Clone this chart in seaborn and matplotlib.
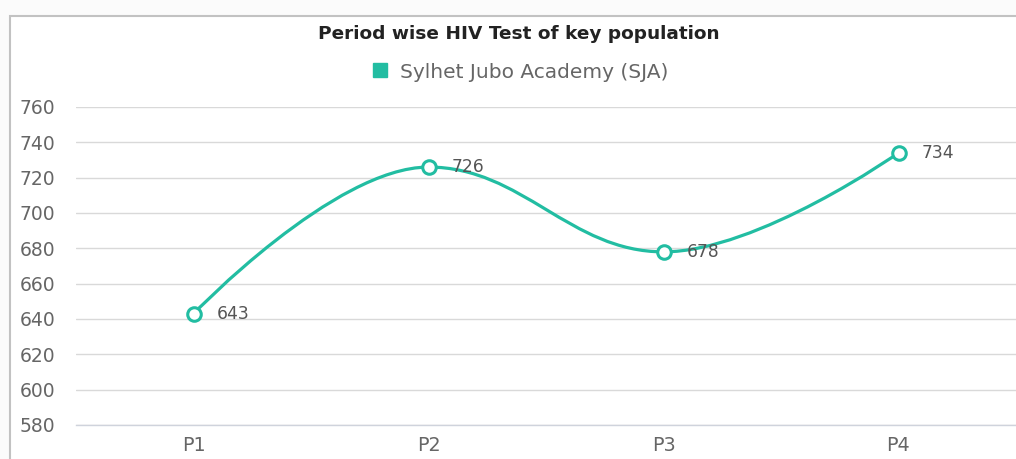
# line chart of period wise HIV tests (Highcharts-like spline)

import matplotlib
matplotlib.use("Agg")
import matplotlib.pyplot as plt
import pandas as pd
import seaborn as sns
from numpy import arange
from matplotlib.path import Path
from matplotlib.patches import PathPatch, Rectangle
from matplotlib.lines import Line2D

# data
periods = ["P1", "P2", "P3", "P4"]
tests = [643, 726, 678, 734]
series_name = "Sylhet Jubo Academy (SJA)"
title = "Period wise HIV Test of key population"
y_ticks = list(range(580, 761, 20))

teal = "#22bda2"
W, H = 1016, 459

df = pd.DataFrame({"pos": arange(len(periods)), "period": periods, "tests": tests})


def spline_path(xs, ys, smoothing=1.5):
    # same control point rule as a highcharts spline
    n = len(xs)
    left = [None] * n
    right = [None] * n
    denom = smoothing + 1
    for i in range(1, n - 1):
        lx, ly, px, py, nx, ny = xs[i - 1], ys[i - 1], xs[i], ys[i], xs[i + 1], ys[i + 1]
        lcx = (smoothing * px + lx) / denom
        lcy = (smoothing * py + ly) / denom
        rcx = (smoothing * px + nx) / denom
        rcy = (smoothing * py + ny) / denom
        corr = (rcy - lcy) * (rcx - px) / (rcx - lcx) + py - rcy
        lcy += corr
        rcy += corr
        if lcy > ly and lcy > py:
            lcy = max(ly, py)
            rcy = 2 * py - lcy
        elif lcy < ly and lcy < py:
            lcy = min(ly, py)
            rcy = 2 * py - lcy
        if rcy > ny and rcy > py:
            rcy = max(ny, py)
            lcy = 2 * py - rcy
        elif rcy < ny and rcy < py:
            rcy = min(ny, py)
            lcy = 2 * py - rcy
        left[i] = (lcx, lcy)
        right[i] = (rcx, rcy)
    verts = [(xs[0], ys[0])]
    codes = [Path.MOVETO]
    for i in range(1, n):
        verts.append(right[i - 1] or (xs[i - 1], ys[i - 1]))
        verts.append(left[i] or (xs[i], ys[i]))
        verts.append((xs[i], ys[i]))
        codes += [Path.CURVE4] * 3
    return Path(verts, codes)


sns.set_theme(style="white")
plt.rcParams["font.family"] = ["DejaVu Sans"]

fig = plt.figure(figsize=(W / 100, H / 100), dpi=100)
fig.patch.set_facecolor("#fbfbfb")

# chart frame, cut by the right and bottom edges
fig.patches.append(Rectangle((10 / W, -0.1), 1.0, 1.1 - 16 / H, transform=fig.transFigure,
                             facecolor="white", edgecolor="#c2c2c2", lw=1.5, zorder=-1))

ax = fig.add_axes([76 / W, 34 / H, 1 - 76 / W, (425 - 107) / H])
ax.set_facecolor("none")

ax.add_patch(PathPatch(spline_path(list(df["pos"]), list(df["tests"])), facecolor="none",
                       edgecolor=teal, lw=2.3, zorder=2, capstyle="round"))
sns.scatterplot(data=df, x="pos", y="tests", ax=ax, s=95, color="white",
                edgecolor=teal, linewidth=2.2, zorder=3, legend=False)

for x, v in zip(df["pos"], df["tests"]):
    ax.annotate(str(v), (x, v), xytext=(17, 0), textcoords="offset points",
                ha="left", va="center", fontsize=12.3, color="#555555")

ax.set_xlim(-0.5, len(periods) - 0.5)
ax.set_ylim(y_ticks[0], y_ticks[-1])
ax.set_yticks(y_ticks)
ax.set_xticks(df["pos"])
ax.set_xticklabels(periods)
ax.set_xticks(arange(len(periods) - 1) + 0.5, minor=True)
ax.set_xlabel("")
ax.set_ylabel("")

ax.yaxis.grid(True, color="#d9d9d9", lw=1)
ax.set_axisbelow(True)
for s in ["top", "right", "left"]:
    ax.spines[s].set_visible(False)
ax.spines["bottom"].set_color("#cfd3dc")
ax.spines["bottom"].set_linewidth(1)

ax.tick_params(axis="y", length=0, pad=15, labelsize=13.5, labelcolor="#666666")
ax.tick_params(axis="x", which="major", length=0, pad=8, labelsize=13.8, labelcolor="#666666")
ax.tick_params(axis="x", which="minor", length=5, width=1, color="#cfd3dc", direction="out")

fig.text(519 / W, 1 - 34 / H, title, ha="center", va="center", fontsize=13.3,
         fontweight="bold", color="#222222")
handle = Line2D([], [], marker="s", color=teal, linestyle="", markersize=9.5)
fig.legend(handles=[handle], labels=[series_name], loc="center",
           bbox_to_anchor=(519 / W, 1 - 72 / H), frameon=False, fontsize=14.5,
           labelcolor="#666666", handletextpad=0.5, handlelength=1.0)

fig.savefig("out.png", dpi=100, facecolor=fig.get_facecolor())
